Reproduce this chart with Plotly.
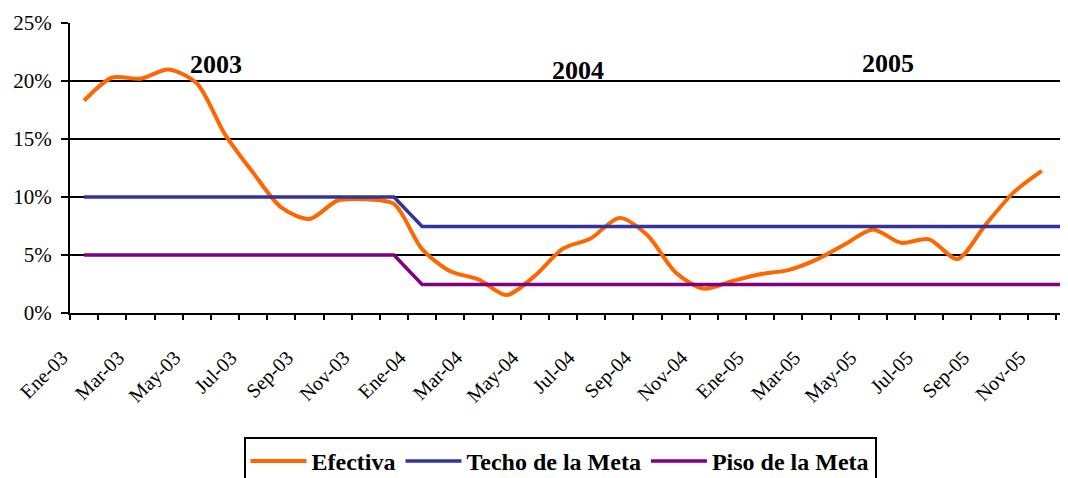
import plotly.graph_objects as go

# Month categories, Ene-03 .. Dic-05
_MESES = ["Ene", "Feb", "Mar", "Abr", "May", "Jun", "Jul", "Ago", "Sep", "Oct", "Nov", "Dic"]
meses = [m + "-" + a for a in ["03", "04", "05"] for m in _MESES]

# Tick labels shown on the x axis (every second month)
etiquetas = meses[::2]

# Y axis ticks (%)
y_ticks = [0, 5, 10, 15, 20, 25]

# Effective inflation (%), Ene-03 .. Nov-05
efectiva = [18.3, 20.3, 20.2, 21.0, 19.8, 15.4, 12.1, 9.1, 8.1, 9.7, 9.8, 9.4,
            5.5, 3.6, 2.9, 1.55, 3.2, 5.55, 6.45, 8.2, 6.7, 3.5, 2.1, 2.75,
            3.34, 3.7, 4.6, 5.9, 7.2, 6.05, 6.35, 4.65, 7.6, 10.4, 12.25]

# Target ceiling and floor (%)
techo = [10.0] * 12 + [7.45] * 24
piso = [5.0] * 12 + [2.45] * 24

# Year labels and their positions (category index, %)
anios = ["2003", "2004", "2005"]
anios_x = [4.68, 17.52, 28.54]
anios_y = [21.4, 20.9, 21.5]

_FONT = "Liberation Serif, Times New Roman, serif"

fig = go.Figure()
fig.add_trace(go.Scatter(
	x = meses[:len(efectiva)], y = efectiva, name = "Efectiva", mode = "lines",
	line = dict(color = "#FF6600", width = 4, shape = "spline", smoothing = 0.8),
))
fig.add_trace(go.Scatter(
	x = meses, y = techo, name = "Techo de la Meta", mode = "lines",
	line = dict(color = "#333399", width = 3.5),
))
fig.add_trace(go.Scatter(
	x = meses, y = piso, name = "Piso de la Meta", mode = "lines",
	line = dict(color = "#800080", width = 3.5),
))
# Empty trace so the overlay axis carrying the between-category ticks is drawn
fig.add_trace(go.Scatter(
	x = [None], y = [None], xaxis = "x2", showlegend = False, hoverinfo = "skip",
))

for txt, ax, ay in zip(anios, anios_x, anios_y):
	fig.add_annotation(x = ax, y = ay, text = txt, showarrow = False,
		font = dict(family = _FONT, size = 26, color = "black", weight = "bold"))

xrange = [-0.5, 34.93]

# The page body adds an 8px offset, so the figure is 8px smaller each way
fig.update_layout(
	width = 1060, height = 470,
	paper_bgcolor = "white", plot_bgcolor = "white",
	margin = {"l": 62, "r": 0, "t": 15, "b": 165},
	font = dict(family = _FONT, color = "black"),
	xaxis = dict(
		type = "category", categoryorder = "array", categoryarray = meses,
		range = xrange, tickmode = "array", tickvals = etiquetas, ticktext = etiquetas,
		tickangle = -45, ticks = "", showgrid = False, showline = True,
		linecolor = "black", linewidth = 2, tickfont = dict(size = 20),
		ticklabelshift = -22, ticklabelstandoff = 23, automargin = False,
	),
	xaxis2 = dict(
		type = "linear", overlaying = "x", anchor = "y", range = xrange,
		showticklabels = False,
		tickmode = "array", tickvals = [i - 0.5 for i in range(len(meses) + 1)],
		ticks = "outside", ticklen = 6, tickwidth = 2, tickcolor = "black",
		showgrid = False, showline = False, zeroline = False, automargin = False,
	),
	yaxis = dict(
		range = [0, 25], tickmode = "array", tickvals = y_ticks,
		ticktext = [str(v) + "%" for v in y_ticks],
		showgrid = True, gridcolor = "black", gridwidth = 2, zeroline = False,
		showline = True, linecolor = "black", linewidth = 2,
		ticks = "outside", ticklen = 7, tickwidth = 2, tickcolor = "black",
		tickfont = dict(size = 21), ticklabelstandoff = 5, automargin = False,
	),
	legend = dict(
		orientation = "h", x = 0.491, xanchor = "center",
		yref = "container", y = 1 - 429 / 470, yanchor = "top",
		bordercolor = "black", borderwidth = 2, itemwidth = 56,
		font = dict(size = 24, weight = "bold"),
	),
)

fig.write_html("out.html")
